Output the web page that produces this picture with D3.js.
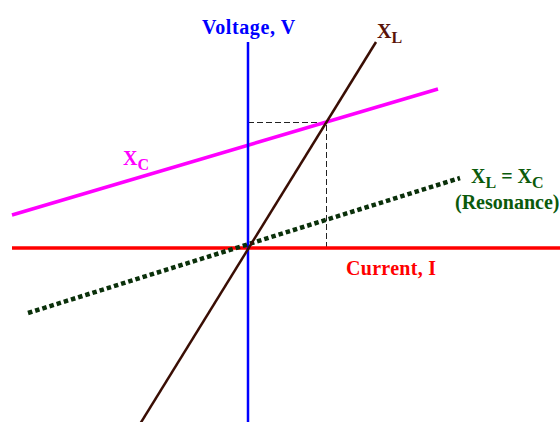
<!DOCTYPE html>
<meta charset="utf-8">
<script src="https://cdn.jsdelivr.net/npm/d3@7"></script>
<style>
  body { margin: 0; background: #fff; }
  text { font-family: "Liberation Serif", "Times New Roman", serif; font-weight: bold; }
</style>
<div id="my_dataviz"></div>
<script>

// lines in (current, voltage) units, origin where the axes cross
var currentAxis = [[-5.9, 0], [7.9, 0]];
var voltageAxis = [[0, -4.4], [0, 5.15]];
var xlLine = [[-2.7, -4.4], [3.2, 5.15]];
var xcLine = [[-5.9, 0.825], [4.75, 3.975]];
var resonanceLine = [[-5.5, -1.625], [5.3, 1.75]];
var crossPoint = [1.95, 3.15];

var width = 560, height = 422;

var svg = d3.select("#my_dataviz")
  .append("svg")
    .attr("width", width)
    .attr("height", height);

var x = d3.scaleLinear().domain([0, 1]).range([248, 288]);
var y = d3.scaleLinear().domain([0, 1]).range([248, 208]);

var line = d3.line()
  .x(function(d) { return x(d[0]) })
  .y(function(d) { return y(d[1]) });

// dashed guide lines to the XL / XC crossing
svg.append("path")
  .datum([[0, crossPoint[1]], crossPoint, [crossPoint[0], 0]])
  .attr("fill", "none")
  .attr("stroke", "#222")
  .attr("stroke-width", 1)
  .attr("shape-rendering", "crispEdges")
  .attr("stroke-dasharray", "6,3")
  .attr("d", line);

// XC
svg.append("path")
  .datum(xcLine)
  .attr("fill", "none")
  .attr("stroke", "#ff00ff")
  .attr("stroke-width", 3.5)
  .attr("d", line);

// current axis
svg.append("path")
  .datum(currentAxis)
  .attr("fill", "none")
  .attr("stroke", "#ff0000")
  .attr("stroke-width", 3.5)
  .attr("d", line);

// voltage axis
svg.append("path")
  .datum(voltageAxis)
  .attr("fill", "none")
  .attr("stroke", "#0000ff")
  .attr("stroke-width", 2.5)
  .attr("d", line);

// resonance (dotted)
svg.append("path")
  .datum(resonanceLine)
  .attr("fill", "none")
  .attr("stroke", "#0a300a")
  .attr("stroke-width", 4.5)
  .attr("stroke-dasharray", "4.5,3")
  .attr("d", line);

// XL
svg.append("path")
  .datum(xlLine)
  .attr("fill", "none")
  .attr("stroke", "#3a0e04")
  .attr("stroke-width", 2.5)
  .attr("d", line);

// labels
svg.append("text")
  .attr("x", 202).attr("y", 34)
  .attr("fill", "#0000ff")
  .style("font-size", "20px")
  .style("letter-spacing", "0.6px")
  .text("Voltage, V");

svg.append("text")
  .attr("x", 346).attr("y", 275)
  .attr("fill", "#ff0000")
  .style("font-size", "20px")
  .style("letter-spacing", "0.3px")
  .text("Current, I");

function subLabel(px, py, main, sub, color, size) {
  var t = svg.append("text")
    .attr("x", px).attr("y", py)
    .attr("fill", color)
    .style("font-size", size + "px");
  t.append("tspan").text(main);
  t.append("tspan")
    .attr("dy", 5)
    .style("font-size", (size - 4) + "px")
    .text(sub);
  return t;
}

subLabel(377, 38, "X", "L", "#5a1208", 20);
subLabel(123, 165, "X", "C", "#ff00ff", 20);

var res = svg.append("text")
  .attr("x", 471).attr("y", 183)
  .attr("fill", "#0b5a0b")
  .style("font-size", "20px");
res.append("tspan").text("X");
res.append("tspan").attr("dy", 5).style("font-size", "16px").text("L");
res.append("tspan").attr("dy", -5).text(" = X");
res.append("tspan").attr("dy", 5).style("font-size", "16px").text("C");

svg.append("text")
  .attr("x", 455).attr("y", 209)
  .attr("fill", "#0b5a0b")
  .style("font-size", "20px")
  .text("(Resonance)");

</script>
